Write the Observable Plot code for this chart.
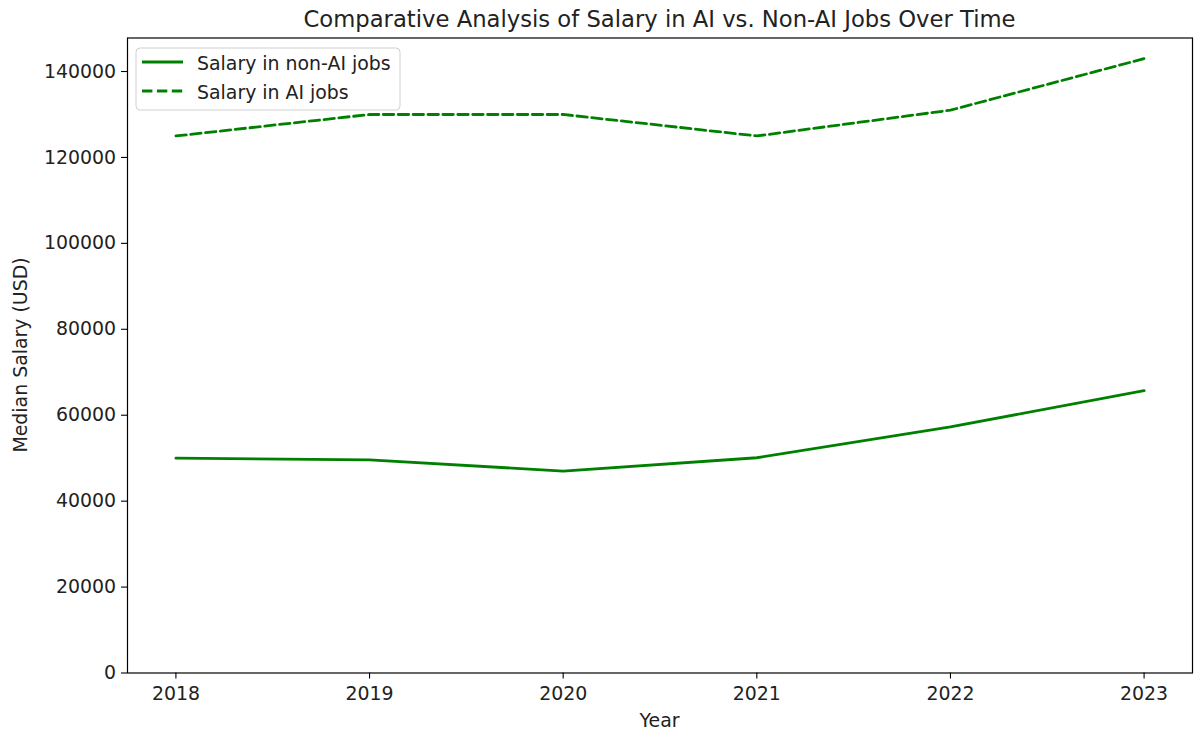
<!DOCTYPE html>
<html>
<head>
<meta charset="utf-8">
<script src="https://cdn.jsdelivr.net/npm/d3@7"></script>
<script src="https://cdn.jsdelivr.net/npm/@observablehq/plot@0.6"></script>
<style>
  body { margin: 0; background: #fff; }
  #wrap { position: relative; width: 1200px; height: 735px; }
  #chart svg text { font-family: "DejaVu Sans", sans-serif !important; font-size: 18.9px !important; fill: #222; }
  #overlay { position: absolute; left: 0; top: 0; pointer-events: none; }
  #overlay text { font-family: "DejaVu Sans", sans-serif; fill: #222; }
</style>
</head>
<body>
<div id="wrap">
  <div id="chart"></div>
  <svg id="overlay" width="1200" height="735"></svg>
</div>
<script>
const years = [2018, 2019, 2020, 2021, 2022, 2023];
const nonAiSalary = [50000, 49600, 47000, 50100, 57300, 65700];
const aiSalary = [125000, 130000, 130000, 125000, 131000, 143000];
const seriesNames = ["Salary in non-AI jobs", "Salary in AI jobs"];
const yTicks = [0, 20000, 40000, 60000, 80000, 100000, 120000, 140000];
const titleText = "Comparative Analysis of Salary in AI vs. Non-AI Jobs Over Time";
const xLabel = "Year";
const yLabel = "Median Salary (USD)";

const green = "#008000";
const lw = 2.8;
const dashPattern = "10.4,4.5";

const nonAiData = years.map((y, i) => ({year: y, salary: nonAiSalary[i]}));
const aiData = years.map((y, i) => ({year: y, salary: aiSalary[i]}));

const chart = Plot.plot({
  width: 1200,
  height: 735,
  marginLeft: 127,
  marginRight: 8,
  marginTop: 37.5,
  marginBottom: 62.5,
  style: {background: "#fff", color: "#222"},
  x: {domain: [2017.75, 2023.25]},
  y: {domain: [0, 147800]},
  marks: [
    Plot.axisX({ticks: years, tickFormat: d => String(d), tickSize: 6, tickPadding: 8, label: null, stroke: "#000", strokeWidth: 1.1}),
    Plot.axisY({ticks: yTicks, tickFormat: d => String(d), tickSize: 6, tickPadding: 5.5, label: null, stroke: "#000", strokeWidth: 1.1}),
    Plot.line(nonAiData, {x: "year", y: "salary", stroke: green, strokeWidth: lw}),
    Plot.line(aiData, {x: "year", y: "salary", stroke: green, strokeWidth: lw, strokeDasharray: dashPattern}),
    Plot.frame({stroke: "#000", strokeWidth: 1.2})
  ]
});
document.getElementById("chart").appendChild(chart);

// Titles, axis labels and legend as real text in an overlay
const ov = d3.select("#overlay");
ov.append("text").attr("x", 659.5).attr("y", 27).attr("text-anchor", "middle")
  .style("font-size", "22.7px").text(titleText);
ov.append("text").attr("x", 659.5).attr("y", 727).attr("text-anchor", "middle")
  .style("font-size", "18.9px").text(xLabel);
ov.append("text").attr("transform", "translate(27,355) rotate(-90)").attr("text-anchor", "middle")
  .style("font-size", "18.9px").text(yLabel);

const lg = ov.append("g");
lg.append("rect").attr("x", 136).attr("y", 48).attr("width", 264).attr("height", 62).attr("rx", 4)
  .attr("fill", "#fff").attr("fill-opacity", 0.8).attr("stroke", "#d0d0d0").attr("stroke-width", 1);
seriesNames.forEach((name, i) => {
  const cy = 62 + i * 29;
  lg.append("line").attr("x1", 142).attr("x2", 183).attr("y1", cy).attr("y2", cy)
    .attr("stroke", green).attr("stroke-width", lw)
    .attr("stroke-dasharray", i === 1 ? dashPattern : null);
  lg.append("text").attr("x", 197).attr("y", cy + 8).style("font-size", "18.9px").text(name);
});
</script>
</body>
</html>
